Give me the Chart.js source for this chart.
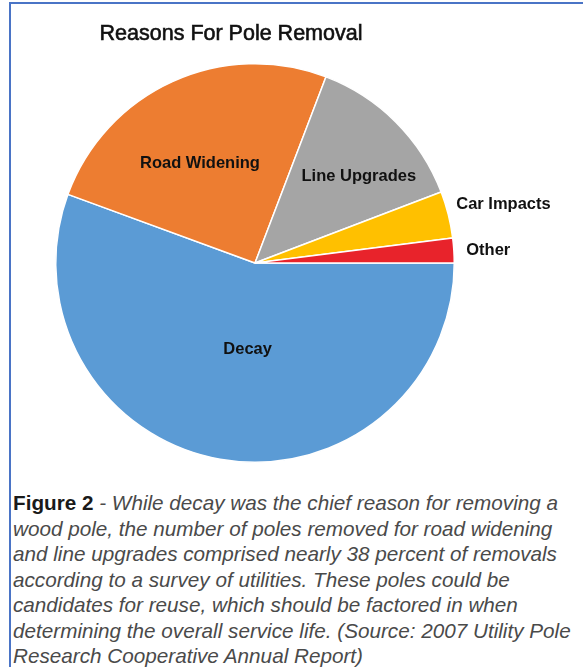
<!DOCTYPE html>
<html>
<head>
<meta charset="utf-8">
<script src="https://cdn.jsdelivr.net/npm/chart.js@4"></script>
<style>
  html, body { margin: 0; padding: 0; background: #fff; }
  body { width: 583px; height: 667px; position: relative; overflow: hidden; }
  #frame {
    position: absolute; left: 9px; top: 2px; width: 600px; height: 700px;
    border-top: 2px solid #4a74c6; border-left: 2px solid #4a74c6;
  }
  #pie { position: absolute; left: 0; top: 0; }
  #caption {
    position: absolute; left: 13px; top: 490px; width: 570px;
    font-family: 'Liberation Sans', Arial, sans-serif; font-size: 20.7px;
    line-height: 25.5px; color: #4a4a4a; font-style: italic; white-space: nowrap;
  }
  #caption b { font-style: normal; color: #1a1a1a; }
</style>
</head>
<body>
<div id="frame"></div>
<canvas id="pie" width="583" height="470"></canvas>
<div id="caption"><b>Figure 2</b> - While decay was the chief reason for removing a<br>wood pole, the number of poles removed for road widening<br>and line upgrades comprised nearly 38 percent of removals<br>according to a survey of utilities. These poles could be<br>candidates for reuse, which should be factored in when<br>determining the overall service life. (Source: 2007 Utility Pole<br>Research Cooperative Annual Report)</div>
<script>
// share of removals, percent
const reasons = ['Decay', 'Road Widening', 'Line Upgrades', 'Car Impacts', 'Other'];
const shares = [55.6, 25.2, 13.4, 3.8, 2.0];
const colors = ['#5b9bd5', '#ed7d31', '#a5a5a5', '#ffc000', '#e8232b'];

// where each label sits: inside at a fraction of the radius, or outside to the right
const labelPlace = [
    { inside: true, frac: 0.44, dx: 8, dy: 0 },
    { inside: true, frac: 0.57, dx: -8, dy: 4 },
    { inside: true, frac: 0.68, dx: 8, dy: 9 },
    { inside: false, dx: 2, dy: -10 },
    { inside: false, dx: 12, dy: 0 }
];

const sliceLabels = {
    id: 'sliceLabels',
    afterDatasetsDraw(chart) {
        const ctx = chart.ctx;
        const arcs = chart.getDatasetMeta(0).data;
        ctx.save();
        ctx.font = "bold 16.5px 'Liberation Sans', Arial, sans-serif";
        ctx.fillStyle = '#111';
        ctx.textBaseline = 'middle';
        arcs.forEach((arc, i) => {
            const p = labelPlace[i];
            const mid = (arc.startAngle + arc.endAngle) / 2;
            if (p.inside) {
                const r = arc.outerRadius * p.frac;
                ctx.textAlign = 'center';
                ctx.fillText(reasons[i], arc.x + Math.cos(mid) * r + p.dx, arc.y + Math.sin(mid) * r + p.dy);
            } else {
                ctx.textAlign = 'left';
                ctx.fillText(reasons[i], arc.x + arc.outerRadius + p.dx, arc.y + Math.sin(mid) * arc.outerRadius + p.dy);
            }
        });
        ctx.restore();
    }
};

const titleText = {
    id: 'titleText',
    afterDraw(chart) {
        const ctx = chart.ctx;
        ctx.save();
        ctx.font = "21.5px 'Liberation Sans', Arial, sans-serif";
        ctx.fillStyle = '#111';
        ctx.strokeStyle = '#111';
        ctx.lineWidth = 0.6;
        ctx.textAlign = 'center';
        ctx.textBaseline = 'middle';
        ctx.fillText('Reasons For Pole Removal', 231, 34);
        ctx.strokeText('Reasons For Pole Removal', 231, 34);
        ctx.restore();
    }
};

new Chart(document.getElementById('pie').getContext('2d'), {
    type: 'pie',
    data: {
        labels: reasons,
        datasets: [{
            data: shares,
            backgroundColor: colors,
            borderColor: '#ffffff',
            borderWidth: 1.5
        }]
    },
    options: {
        responsive: false,
        animation: false,
        rotation: 90,
        layout: { padding: { left: 55, right: 128, top: 63, bottom: 7 } },
        plugins: {
            legend: { display: false },
            tooltip: { enabled: false },
            title: { display: false }
        }
    },
    plugins: [sliceLabels, titleText]
});
</script>
</body>
</html>
